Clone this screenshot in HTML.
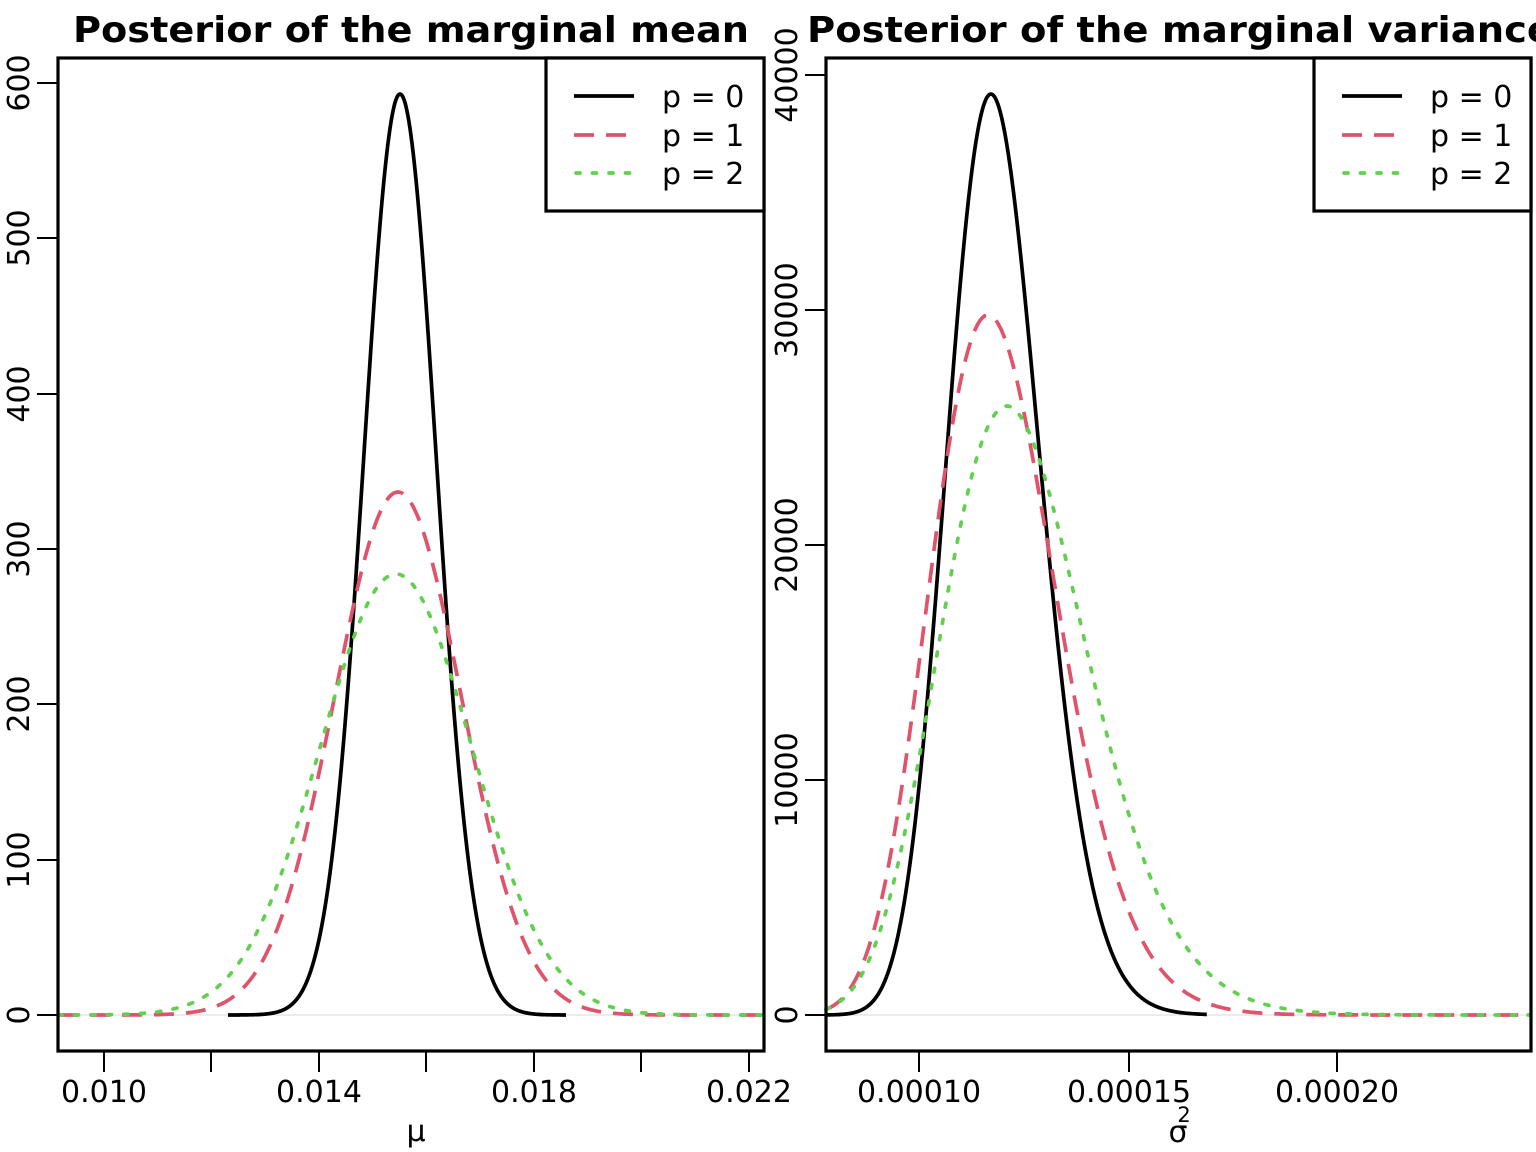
<!DOCTYPE html>
<html><head><meta charset="utf-8"><style>
html,body{margin:0;padding:0;background:#fff;}
svg{display:block;}
text{font-family:"DejaVu Sans","Liberation Sans",sans-serif;fill:#000;}
</style></head><body>
<svg id="s" width="1536" height="1152" xmlns="http://www.w3.org/2000/svg">
<rect width="1536" height="1152" fill="#fff"/>
<line x1="58" y1="1015" x2="764" y2="1015" stroke="#d9d9d9" stroke-width="1"/>
<line x1="826" y1="1015" x2="1531" y2="1015" stroke="#d9d9d9" stroke-width="1"/>
<g id="curves" fill="none" stroke-width="3.7"></g>
<rect x="58" y="58" width="706" height="993" fill="none" stroke="#000" stroke-width="3.2"/>
<rect x="826" y="58" width="705" height="993" fill="none" stroke="#000" stroke-width="3.2"/>
<text x="411" y="42" font-size="36" font-weight="bold" text-anchor="middle" textLength="676" lengthAdjust="spacingAndGlyphs">Posterior of the marginal mean</text>
<text x="1180" y="42" font-size="36" font-weight="bold" text-anchor="middle" textLength="746" lengthAdjust="spacingAndGlyphs">Posterior of the marginal variance</text>
<g stroke="#000" stroke-width="2">
<line x1="104" y1="1051" x2="104" y2="1072"/><line x1="211" y1="1051" x2="211" y2="1072"/>
<line x1="319" y1="1051" x2="319" y2="1072"/><line x1="426" y1="1051" x2="426" y2="1072"/>
<line x1="534" y1="1051" x2="534" y2="1072"/><line x1="641" y1="1051" x2="641" y2="1072"/>
<line x1="749" y1="1051" x2="749" y2="1072"/>
<line x1="37" y1="1015" x2="58" y2="1015"/><line x1="37" y1="860" x2="58" y2="860"/>
<line x1="37" y1="704" x2="58" y2="704"/><line x1="37" y1="549" x2="58" y2="549"/>
<line x1="37" y1="394" x2="58" y2="394"/><line x1="37" y1="238" x2="58" y2="238"/>
<line x1="37" y1="83" x2="58" y2="83"/>
<line x1="919" y1="1051" x2="919" y2="1072"/><line x1="1129" y1="1051" x2="1129" y2="1072"/>
<line x1="1337" y1="1051" x2="1337" y2="1072"/>
<line x1="805" y1="1015" x2="826" y2="1015"/><line x1="805" y1="780" x2="826" y2="780"/>
<line x1="805" y1="545" x2="826" y2="545"/><line x1="805" y1="310" x2="826" y2="310"/>
<line x1="805" y1="75" x2="826" y2="75"/>
</g>
<g font-size="30" text-anchor="middle">
<text x="104" y="1102">0.010</text><text x="319" y="1102">0.014</text>
<text x="534" y="1102">0.018</text><text x="749" y="1102">0.022</text>
<text x="919" y="1102">0.00010</text><text x="1129" y="1102">0.00015</text><text x="1337" y="1102">0.00020</text>
<text x="416" y="1141" font-family="Liberation Serif,serif">μ</text>
<text x="1178" y="1142" font-family="Liberation Serif,serif">σ</text>
<text x="1184" y="1122" font-size="21">2</text>
</g>
<g font-size="30" text-anchor="middle">
<text transform="translate(29,1015) rotate(-90)">0</text>
<text transform="translate(29,860) rotate(-90)">100</text>
<text transform="translate(29,704) rotate(-90)">200</text>
<text transform="translate(29,549) rotate(-90)">300</text>
<text transform="translate(29,394) rotate(-90)">400</text>
<text transform="translate(29,238) rotate(-90)">500</text>
<text transform="translate(29,83) rotate(-90)">600</text>
<text transform="translate(797,1015) rotate(-90)">0</text>
<text transform="translate(797,780) rotate(-90)">10000</text>
<text transform="translate(797,545) rotate(-90)">20000</text>
<text transform="translate(797,310) rotate(-90)">30000</text>
<text transform="translate(797,75) rotate(-90)">40000</text>
</g>
<rect x="546" y="58" width="218" height="153" fill="#fff" stroke="#000" stroke-width="3.2"/>
<rect x="1314" y="58" width="217" height="153" fill="#fff" stroke="#000" stroke-width="3.2"/>
<g stroke-width="3.7" fill="none">
<line x1="574" y1="96" x2="634" y2="96" stroke="#000"/>
<line x1="574" y1="135" x2="634" y2="135" stroke="#DF536B" stroke-dasharray="20 12"/>
<line x1="576" y1="173" x2="634" y2="173" stroke="#61D04F" stroke-dasharray="4 12.5" stroke-linecap="round"/>
<line x1="1342" y1="96" x2="1402" y2="96" stroke="#000"/>
<line x1="1342" y1="135" x2="1402" y2="135" stroke="#DF536B" stroke-dasharray="20 12"/>
<line x1="1344" y1="173" x2="1402" y2="173" stroke="#61D04F" stroke-dasharray="4 12.5" stroke-linecap="round"/>
</g>
<g font-size="30">
<text x="662" y="107">p = 0</text><text x="662" y="146">p = 1</text><text x="662" y="184">p = 2</text>
<text x="1430" y="107">p = 0</text><text x="1430" y="146">p = 1</text><text x="1430" y="184">p = 2</text>
</g>
</svg>
<script>
(function(){
var g=document.getElementById('curves'),NS='http://www.w3.org/2000/svg';
function add(pts,col,dash){var p=document.createElementNS(NS,'path');
var d='';pts.forEach(function(q,i){d+=(i?'L':'M')+q[0].toFixed(1)+' '+q[1].toFixed(1);});
p.setAttribute('d',d);p.setAttribute('stroke',col);if(dash){p.setAttribute('stroke-dasharray',dash);}
if(col=='#61D04F')p.setAttribute('stroke-linecap','round');g.appendChild(p);}
function gauss(mx,sd,peakPx,x0,x1){var a=[];for(var x=x0;x<=x1;x+=1){var z=(x-mx)/sd;a.push([x,1015-peakPx*Math.exp(-z*z/2)]);}return a;}
add(gauss(400,36.2,921,228,566),'#000');
add(gauss(398,63.6,523,58,764),'#DF536B','20 12');
add(gauss(396,76,441,58,764),'#61D04F','4 12.5');
function px(v){return 919+(v-1e-4)/1e-5*41.8;}
function logn(mode,s,peakPx,v0,v1){var a=[];var mu=Math.log(mode)+s*s;
var f=function(v){return Math.exp(-Math.log(v)-Math.pow(Math.log(v)-mu,2)/(2*s*s));};var fm=f(mode);
for(var x=px(v0);x<=px(v1);x+=1){var v=1e-4+(x-919)/41.8*1e-5;a.push([x,1015-peakPx*f(v)/fm]);}return a;}
add(logn(1.172e-4,0.095,921,0.777e-4,1.69e-4),'#000');
add(logn(1.165e-4,0.13,700,0.777e-4,2.46e-4),'#DF536B','20 12');
add(logn(1.21e-4,0.145,609,0.777e-4,2.46e-4),'#61D04F','4 12.5');
})();
</script>
</body></html>
